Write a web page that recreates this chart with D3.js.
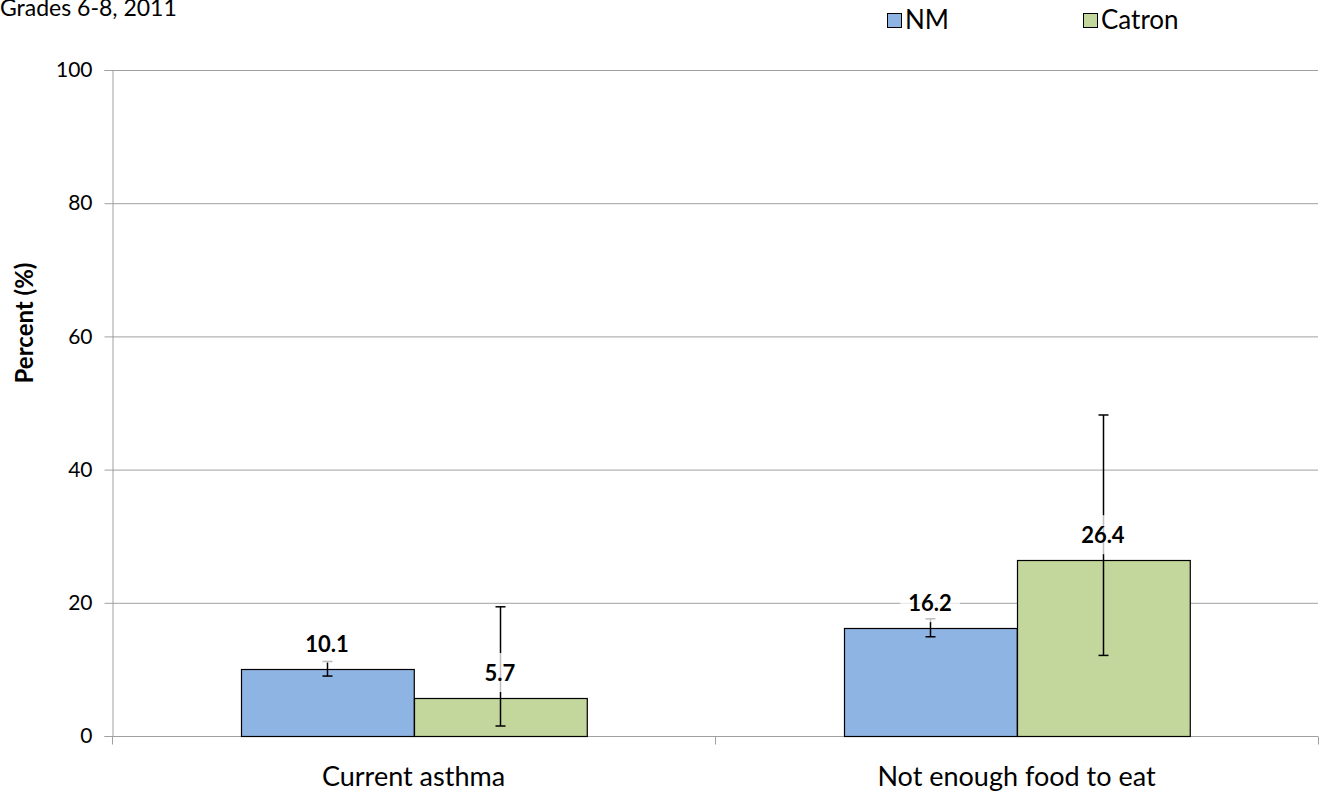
<!DOCTYPE html>
<html>
<head>
<meta charset="utf-8">
<script src="https://cdn.jsdelivr.net/npm/d3@7"></script>
<style>
    body { margin: 0; background: #fff; }
    svg { display: block; font-family: Lato, "Open Sans", sans-serif; }
</style>
</head>
<body>
<svg id="chart" width="1322" height="792"></svg>
<script>
// chart data
let categories = ['Current asthma', 'Not enough food to eat'];
let seriesNames = ['NM', 'Catron'];
let nmValues = [10.1, 16.2];
let nmLower = [9.0, 14.9];
let nmUpper = [11.2, 17.6];
let catronValues = [5.7, 26.4];
let catronLower = [1.5, 12.1];
let catronUpper = [19.4, 48.2];
let yTicks = [0, 20, 40, 60, 80, 100];
let colors = ['#8eb4e3', '#c3d69b'];

// build one row per bar from the arrays above
let rows = [];
categories.forEach((c, i) => {
    rows.push({cat: c, series: seriesNames[0], value: nmValues[i], lo: nmLower[i], hi: nmUpper[i]});
    rows.push({cat: c, series: seriesNames[1], value: catronValues[i], lo: catronLower[i], hi: catronUpper[i]});
});

let svg = d3.select('#chart');
let plot = {left: 112, right: 1318, top: 70, bottom: 736};

// one band per category, the ticks sit on the band edges
let x = d3.scaleBand()
    .domain(categories)
    .range([plot.left, plot.right])
    .paddingInner(0)
    .paddingOuter(0);

// bars inside a band: outer padding so each bar is ~173px of the 603px band
let x1 = d3.scaleBand()
    .domain(seriesNames)
    .range([0, x.bandwidth()])
    .paddingInner(0)
    .paddingOuter(0.745);

let y = d3.scaleLinear()
    .domain([0, 100])
    .range([plot.bottom, plot.top]);

let color = d3.scaleOrdinal().domain(seriesNames).range(colors);

// horizontal gridlines
svg.append('g')
    .selectAll('line')
    .data(yTicks.filter(d => d > 0))
    .join('line')
        .attr('x1', plot.left)
        .attr('x2', plot.right)
        .attr('y1', d => y(d) + 0.5)
        .attr('y2', d => y(d) + 0.5)
        .attr('stroke', '#a0a0a0')
        .attr('stroke-width', 1);

// y axis
let yAxis = svg.append('g')
    .attr('transform', `translate(${plot.left + 0.5},0)`)
    .call(d3.axisLeft(y).tickValues(yTicks).tickSize(8).tickPadding(12));
yAxis.select('.domain').attr('stroke', '#a0a0a0');
yAxis.selectAll('.tick line').attr('stroke', '#a0a0a0');
yAxis.selectAll('.tick text')
    .attr('font-size', 21)
    .attr('font-family', 'Lato, sans-serif')
    .attr('fill', '#000');

// x axis
let xAxis = svg.append('g')
    .attr('transform', `translate(0,${plot.bottom + 0.5})`);
xAxis.append('line')
    .attr('x1', plot.left).attr('x2', plot.right)
    .attr('stroke', '#a0a0a0');
xAxis.selectAll('line.edge')
    .data([plot.left, ...categories.map(c => x(c) + x.bandwidth())])
    .join('line')
        .attr('class', 'edge')
        .attr('x1', d => Math.round(d) + 0.5)
        .attr('x2', d => Math.round(d) + 0.5)
        .attr('y1', 0).attr('y2', 8)
        .attr('stroke', '#a0a0a0');
xAxis.selectAll('text')
    .data(categories)
    .join('text')
        .attr('x', d => x(d) + x.bandwidth() / 2)
        .attr('y', 49)
        .attr('text-anchor', 'middle')
        .attr('font-size', 27)
        .text(d => d);

// bars
let bars = svg.append('g');
bars.selectAll('rect')
    .data(rows)
    .join('rect')
        .attr('x', d => Math.round(x(d.cat) + x1(d.series)) + 0.5)
        .attr('y', d => Math.round(y(d.value)) + 0.5)
        .attr('width', x1.bandwidth())
        .attr('height', d => Math.round(y(0)) - Math.round(y(d.value)))
        .attr('fill', d => color(d.series))
        .attr('stroke', '#000')
        .attr('stroke-width', 1.2);

// error bars
let err = svg.append('g')
    .attr('stroke', '#000')
    .attr('stroke-width', 1.5);
rows.forEach(d => {
    let cx = Math.round(x(d.cat) + x1(d.series) + x1.bandwidth() / 2) + 0.5;
    err.append('line').attr('x1', cx).attr('x2', cx).attr('y1', y(d.lo)).attr('y2', y(d.hi));
    err.append('line').attr('x1', cx - 5).attr('x2', cx + 5).attr('y1', y(d.lo)).attr('y2', y(d.lo));
    err.append('line').attr('x1', cx - 5).attr('x2', cx + 5).attr('y1', y(d.hi)).attr('y2', y(d.hi));
});

// value labels with a translucent white box behind them
let labels = svg.append('g');
rows.forEach(d => {
    let cx = x(d.cat) + x1(d.series) + x1.bandwidth() / 2;
    let g = labels.append('g');
    let t = g.append('text')
        .attr('x', cx)
        .attr('y', y(d.value) - 17)
        .attr('text-anchor', 'middle')
        .attr('font-size', 22)
        .attr('font-weight', 'bold')
        .text(d.value.toFixed(1));
    let b = t.node().getBBox();
    g.insert('rect', 'text')
        .attr('x', b.x - 8)
        .attr('y', b.y - 6)
        .attr('width', b.width + 16)
        .attr('height', b.height + 12)
        .attr('fill', '#fff')
        .attr('fill-opacity', 0.75);
});

// y axis title
svg.append('text')
    .attr('transform', `translate(33,${(plot.top + plot.bottom) / 2 - 80}) rotate(-90)`)
    .attr('text-anchor', 'middle')
    .attr('font-size', 24)
    .attr('font-weight', 'bold')
    .text('Percent (%)');

// chart subtitle, its top is cut off like the source
svg.append('text')
    .attr('x', 0)
    .attr('y', 16)
    .attr('font-size', 23)
    .text('Grades 6-8, 2011');

// legend
let legendX = [887, 1083];
let legend = svg.append('g');
seriesNames.forEach((s, i) => {
    legend.append('rect')
        .attr('x', legendX[i] + 0.5).attr('y', 13.5)
        .attr('width', 14).attr('height', 14)
        .attr('fill', color(s))
        .attr('stroke', '#000')
        .attr('stroke-width', 1);
    legend.append('text')
        .attr('x', legendX[i] + 18)
        .attr('y', 29)
        .attr('font-size', 26)
        .text(s);
});
</script>
</body>
</html>
